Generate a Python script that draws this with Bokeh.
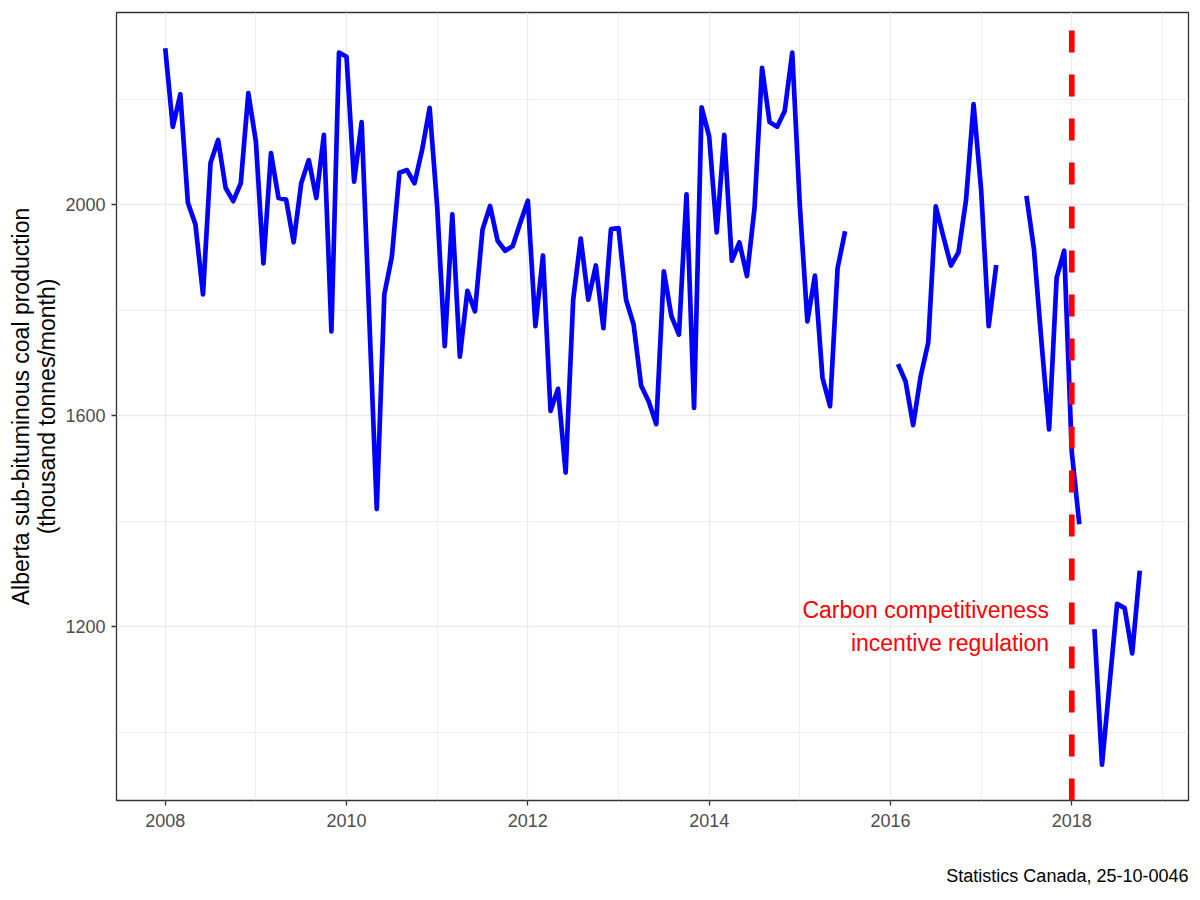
import numpy as np
from bokeh.plotting import figure
from bokeh.models import FixedTicker, Range1d, Title
from bokeh.core.properties import value
from bokeh.embed import file_html
from bokeh.resources import INLINE

nan = float("nan")

# Monthly Alberta sub-bituminous coal production (thousand tonnes/month)
prod_2008 = [2297, 2148, 2210, 2004, 1963, 1830, 2080, 2123, 2032, 2007, 2041, 2212]
prod_2009 = [2120, 1889, 2098, 2013, 2010, 1929, 2041, 2085, 2013, 2133, 1760, 2289]
prod_2010 = [2281, 2044, 2157, 1789, 1423, 1830, 1902, 2061, 2066, 2041, 2104, 2184]
prod_2011 = [1996, 1732, 1982, 1712, 1837, 1798, 1953, 1998, 1932, 1913, 1922, 1966]
prod_2012 = [2008, 1770, 1904, 1609, 1651, 1492, 1820, 1936, 1820, 1885, 1766, 1954]
prod_2013 = [1956, 1820, 1773, 1657, 1627, 1584, 1874, 1789, 1754, 2020, 1615, 2185]
prod_2014 = [2130, 1948, 2133, 1894, 1929, 1865, 1993, 2260, 2157, 2148, 2178, 2289]
prod_2015 = [1999, 1779, 1866, 1672, 1618, 1880, 1950, nan, nan, nan, nan, nan]
prod_2016 = [nan, 1698, 1665, 1582, 1675, 1739, 1997, 1940, 1885, 1910, 2009, 2191]
prod_2017 = [2029, 1770, 1886, nan, nan, nan, 2017, 1915, 1738, 1574, 1862, 1913]
prod_2018 = [1531, 1394, nan, 1195, 938, 1091, 1243, 1235, 1149, 1306]

years = [2008, 2009, 2010, 2011, 2012, 2013, 2014, 2015, 2016, 2017, 2018]
by_year = [prod_2008, prod_2009, prod_2010, prod_2011, prod_2012, prod_2013,
           prod_2014, prod_2015, prod_2016, prod_2017, prod_2018]

# decimal-year dates (first of each month)
dates = []
production = []
for yr, vals in zip(years, by_year):
    for m, v in enumerate(vals):
        dates.append(yr + m / 12.0)
        production.append(v)
dates = np.array(dates)
production = np.array(production, dtype=float)

policy_date = 2018.0
annot_x = 2017.75
annot_y = 1200
annot_text = "Carbon competitiveness\nincentive regulation"
caption = "Statistics Canada, 25-10-0046"
y_title = "Alberta sub-bituminous coal production\n(thousand tonnes/month)"

x_major = [2008, 2010, 2012, 2014, 2016, 2018]
x_minor = [2009, 2011, 2013, 2015, 2017, 2019]
y_major = [1200, 1600, 2000]
y_minor = [1000, 1400, 1800, 2200]

# ggplot-like 5% expansion
xmin, xmax = dates.min(), dates.max()
ymin, ymax = np.nanmin(production), np.nanmax(production)
xpad = 0.05 * (xmax - xmin)
ypad = 0.05 * (ymax - ymin)
x_lo, x_hi = xmin - xpad, xmax + xpad
y_lo, y_hi = ymin - ypad, ymax + ypad

FONT = "Liberation Sans"

p = figure(width=1200, height=900, output_backend="svg", toolbar_location=None,
           x_range=Range1d(x_lo, x_hi), y_range=Range1d(y_lo, y_hi),
           min_border_left=116, min_border_right=12, min_border_top=12,
           min_border_bottom=100)
p.background_fill_color = "white"
p.border_fill_color = "white"
p.outline_line_color = "#333333"
p.outline_line_width = 1.3

p.xaxis.ticker = FixedTicker(ticks=x_major, minor_ticks=x_minor)
p.yaxis.ticker = FixedTicker(ticks=y_major, minor_ticks=y_minor)

for ax in (p.xaxis[0], p.yaxis[0]):
    ax.axis_line_color = None
    ax.major_tick_line_color = "#333333"
    ax.major_tick_line_width = 1.3
    ax.major_tick_out = 5
    ax.major_tick_in = 0
    ax.minor_tick_line_color = None
    ax.major_label_text_font = FONT
    ax.major_label_text_font_size = "18px"
    ax.major_label_text_color = "#4D4D4D"

p.xaxis.major_label_standoff = 8
p.yaxis.major_label_standoff = 6

p.yaxis.axis_label = y_title
p.yaxis.axis_label_text_font = FONT
p.yaxis.axis_label_text_font_size = "23px"
p.yaxis.axis_label_text_font_style = "normal"
p.yaxis.axis_label_text_color = "black"
p.yaxis.axis_label_standoff = 2
p.yaxis.axis_label_text_line_height = 1.0

for g in (p.xgrid[0], p.ygrid[0]):
    g.grid_line_color = "#EBEBEB"
    g.grid_line_width = 1.3
    g.minor_grid_line_color = "#EBEBEB"
    g.minor_grid_line_width = 0.8

p.line(dates, production, line_color="#0000FF", line_width=4.7,
       line_join="round", line_cap="butt")

p.segment(x0=[policy_date], y0=[y_lo], x1=[policy_date], y1=[y_hi],
          line_color="#FF0000", line_width=5.7, line_dash="22 22")

p.text(x=[annot_x], y=[annot_y], text=[annot_text], text_align="right",
       text_baseline="middle", text_font=value(FONT), text_font_size="23px",
       text_color="#FF0000", text_line_height=1.25)

# blank spacer between the x axis and the caption
p.add_layout(Title(text=" ", text_font_size="2px", standoff=30), "below")
p.add_layout(Title(text=caption, align="right", text_font=FONT,
                   text_font_size="18px", text_font_style="normal",
                   text_color="black", standoff=0), "below")

open("out.html", "w").write(file_html(p, INLINE))
